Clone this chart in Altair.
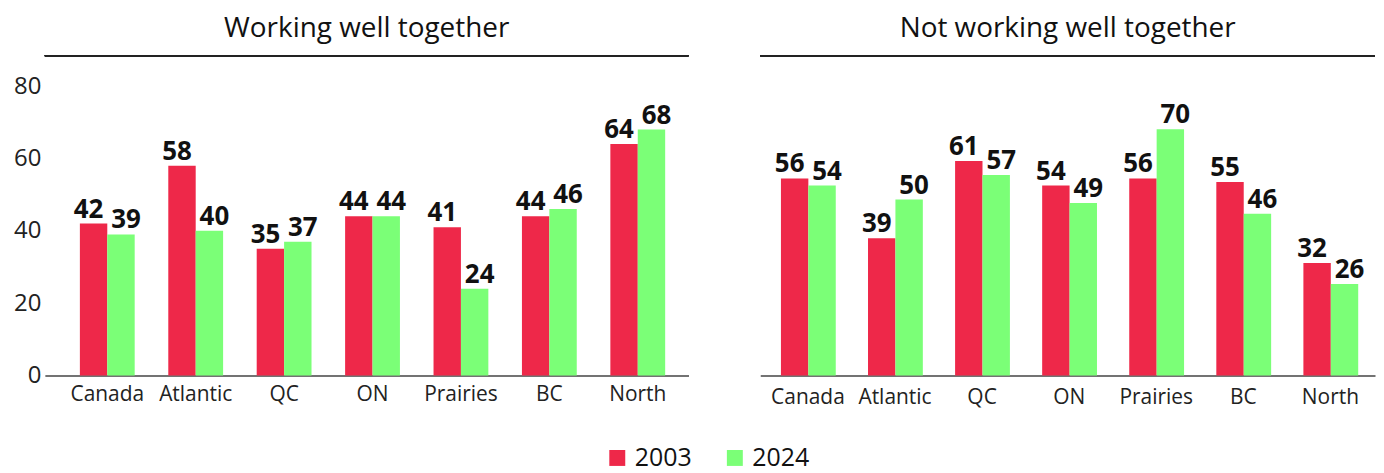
import altair as alt
import pandas as pd

regions = ["Canada", "Atlantic", "QC", "ON", "Prairies", "BC", "North"]
years = ["2003", "2024"]
working_2003 = [42, 58, 35, 44, 41, 44, 64]
working_2024 = [39, 40, 37, 44, 24, 46, 68]
notworking_2003 = [56, 39, 61, 54, 56, 55, 32]
notworking_2024 = [54, 50, 57, 49, 70, 46, 26]
y_ticks = [0, 20, 40, 60, 80]
colors = ["#EE2849", "#7BFF77"]
FONT = "Open Sans"


def long(v03, v24):
    rows = []
    for r, a, b in zip(regions, v03, v24):
        rows.append({"region": r, "year": years[0], "value": a})
        rows.append({"region": r, "year": years[1], "value": b})
    return pd.DataFrame(rows)


def panel(df, title, width, ymax, show_y, pad_outer, align, xlab_pad):
    xenc = alt.X(
        "region:N",
        sort=regions,
        scale=alt.Scale(paddingInner=0.38, paddingOuter=pad_outer, align=align),
        axis=alt.Axis(
            title=None, labelAngle=0, labelFontSize=21, labelFont=FONT,
            labelColor="#222", ticks=False, domainColor="#444", domainWidth=1.5,
            labelPadding=xlab_pad,
        ),
    )
    if show_y:
        yaxis = alt.Axis(
            title=None, values=y_ticks, grid=False, domain=False, ticks=False,
            labelFontSize=24, labelFont=FONT, labelColor="#222", labelPadding=4,
        )
    else:
        yaxis = None
    yenc = alt.Y("value:Q", scale=alt.Scale(domain=[0, ymax], nice=False), axis=yaxis)
    xoff = alt.XOffset("year:N", sort=years, scale=alt.Scale(paddingInner=0, paddingOuter=0))
    base = alt.Chart(df).encode(x=xenc, xOffset=xoff, y=yenc)
    bars = base.mark_bar().encode(
        color=alt.Color(
            "year:N",
            scale=alt.Scale(domain=years, range=colors),
            legend=alt.Legend(
                title=None, orient="none", direction="horizontal",
                legendX=562, legendY=391, symbolType="square", symbolSize=256,
                symbolStrokeWidth=0, labelFontSize=25, labelFont=FONT,
                labelColor="#111", columnPadding=30, padding=0, labelOffset=5,
            ),
        )
    )
    lab_style = dict(baseline="bottom", dy=-1, fontSize=26, fontWeight="bold", font=FONT, color="#111")
    lab03 = base.mark_text(dx=-5, **lab_style).encode(text="value:Q").transform_filter(
        alt.datum.year == years[0]
    )
    lab24 = base.mark_text(dx=5, **lab_style).encode(text="value:Q").transform_filter(
        alt.datum.year == years[1]
    )
    topline = alt.Chart(df).mark_rule(color="#222", strokeWidth=1.3).encode(
        y=alt.value(0)
    )
    return alt.layer(bars, lab03, lab24, topline).properties(
        width=width,
        height=321,
        title=alt.Title(
            title, fontSize=28, font=FONT, fontWeight="normal", color="#111",
            anchor="middle", offset=12,
        ),
    )


left = panel(long(working_2003, working_2024), "Working well together", 646, 88.4, True, 0.33, 0.6, 8)
right = panel(long(notworking_2003, notworking_2024), "Not working well together", 617, 90.9, False, 0.22, 0.54, 11)

chart = (
    alt.hconcat(left, right, spacing=70)
    .properties(padding={"left": 5, "right": 0, "top": 6, "bottom": 0})
    .configure_view(stroke=None)
)

chart.save("out.html", embed_options={"renderer": "svg", "actions": False})
